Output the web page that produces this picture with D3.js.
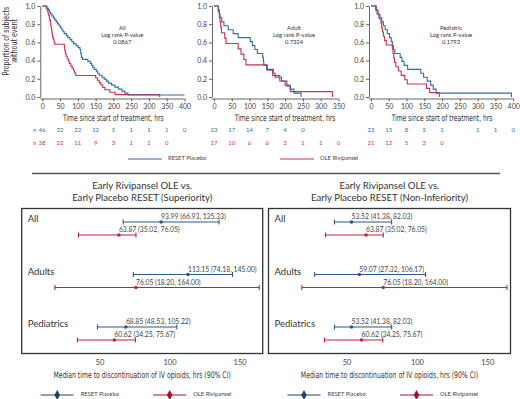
<!DOCTYPE html>
<html>
<head>
<meta charset="utf-8">
<script src="https://cdn.jsdelivr.net/npm/d3@7"></script>
<style>
body { margin: 0; background: #fff; }
svg { display: block; }
.narrow { font-family: 'DejaVu Sans Condensed', 'Liberation Sans', sans-serif; }
.soft { font-family: Lato, 'Open Sans', sans-serif; }
</style>
</head>
<body>
<div id="chart"></div>
<script>
// ---- Kaplan-Meier panels ----
const panelNames = ['All', 'Adult', 'Pediatric']
const pValues = ['0.0867', '0.7324', '0.1793']
const panelMax = [400, 350, 400]
const timeTicks = [0, 50, 100, 150, 200, 250, 300, 350, 400]
const survTicks = [0, 0.2, 0.4, 0.6, 0.8, 1.0]

const atRiskPlacebo = [
    [46, 32, 22, 12, 5, 1, 1, 1, 0],
    [23, 17, 14, 7, 4, 0],
    [23, 15, 8, 5, 1, null, 1, 1, 0]
]
const atRiskOle = [
    [38, 22, 11, 9, 3, 1, 1, 0],
    [17, 10, 6, 6, 3, 1, 1, 0],
    [21, 12, 5, 3, 0]
]

// [time, survival after the step]
const placeboAll = [[13,0.978],[17,0.957],[20,0.935],[23,0.913],[27,0.891],[31,0.87],[35,0.848],[39,0.826],[43,0.804],[47,0.783],[51,0.761],[55,0.739],[58,0.717],[62,0.696],[68,0.674],[72,0.652],[78,0.63],[83,0.609],[88,0.587],[95,0.565],[101,0.543],[106,0.522],[108,0.478],[110,0.435],[113,0.413],[128,0.391],[135,0.37],[139,0.348],[142,0.326],[146,0.304],[152,0.283],[156,0.261],[160,0.239],[168,0.217],[174,0.196],[180,0.174],[186,0.152],[195,0.13],[204,0.109],[214,0.087],[224,0.065],[232,0.043],[241,0.022],[400,0.022]]
const oleAll = [[11,0.974],[14,0.947],[16,0.921],[18,0.895],[20,0.868],[21,0.842],[23,0.816],[24,0.789],[25,0.763],[26,0.737],[27,0.711],[28,0.684],[29,0.658],[31,0.632],[33,0.605],[35,0.579],[62,0.553],[63,0.526],[64,0.5],[65,0.474],[67,0.447],[70,0.421],[73,0.395],[76,0.368],[80,0.342],[84,0.316],[88,0.289],[91,0.263],[94,0.237],[150,0.211],[155,0.184],[160,0.158],[165,0.132],[170,0.105],[176,0.079],[190,0.053],[205,0.026],[330,0]]
const placeboAdult = [[12,0.957],[15,0.913],[17,0.87],[22,0.826],[28,0.783],[40,0.739],[54,0.696],[68,0.652],[102,0.609],[108,0.565],[115,0.522],[122,0.478],[137,0.435],[139,0.391],[140,0.348],[148,0.304],[167,0.261],[172,0.217],[190,0.174],[200,0.13],[214,0.087],[225,0.043],[245,0]]
const oleAdult = [[12,0.941],[15,0.882],[17,0.824],[19,0.765],[21,0.706],[30,0.647],[34,0.588],[68,0.529],[76,0.471],[84,0.412],[90,0.353],[150,0.294],[165,0.235],[185,0.176],[205,0.118],[215,0.059],[333,0]]
const placeboPed = [[13,0.957],[17,0.913],[22,0.87],[30,0.826],[35,0.783],[40,0.739],[46,0.696],[52,0.652],[57,0.609],[60,0.565],[63,0.522],[67,0.478],[82,0.435],[87,0.391],[93,0.348],[103,0.304],[140,0.261],[148,0.217],[158,0.174],[168,0.13],[175,0.087],[183,0.043],[395,0]]
const olePed = [[15,0.952],[20,0.905],[25,0.857],[28,0.81],[30,0.762],[32,0.714],[35,0.667],[38,0.619],[43,0.571],[60,0.524],[62,0.476],[64,0.429],[66,0.381],[70,0.333],[77,0.286],[85,0.238],[95,0.19],[102,0.143],[156,0.095],[165,0.048],[192,0]]

const placeboSteps = [placeboAll, placeboAdult, placeboPed]
const oleSteps = [oleAll, oleAdult, olePed]

// ---- forest plots ----
const groups = ['All', 'Adults', 'Pediatrics']
const forestTicks = [50, 100, 150]
// [median, low, high]
const supPlacebo = [[93.99, 66.93, 135.33], [113.15, 74.18, 145.00], [68.85, 48.53, 105.22]]
const supOle = [[63.87, 35.02, 76.05], [76.05, 18.20, 164.00], [60.62, 34.25, 75.67]]
const niPlacebo = [[53.52, 41.38, 82.03], [59.07, 27.32, 106.17], [53.52, 41.38, 82.03]]
const niOle = [[63.87, 35.02, 76.05], [76.05, 18.20, 164.00], [60.62, 34.25, 75.67]]

const blue = '#3b6c9c'
const red = '#cf2f50'
const fBlue = '#2d5883'
const fRed = '#c2223f'

let width = 520
let height = 399

let svg = d3.select('#chart')
    .append('svg')
    .attr('width', width)
    .attr('height', height)

// layout
const kmLeft = [42.3, 214, 371]
const hrPx = 0.3555
const kmTop = 6
const kmBottom = 97
const squeeze = 0.74   // narrow axis-title look

let line = d3.line().curve(d3.curveStepAfter)

panelNames.forEach((name, i) => {
    let g = svg.append('g')
    let x = d3.scaleLinear()
        .domain([0, panelMax[i]])
        .range([kmLeft[i], kmLeft[i] + panelMax[i] * hrPx])
    let y = d3.scaleLinear().domain([0, 1]).range([kmBottom, kmTop])

    let xAxis = g.append('g')
        .attr('transform', `translate(0,${kmBottom + 1.5})`)
        .call(d3.axisBottom(x).tickValues(timeTicks.filter(t => t <= panelMax[i])).tickSize(3).tickSizeOuter(0).tickPadding(3))
    xAxis.select('.domain').attr('d', `M${kmLeft[i] - 2},0.5H${x(panelMax[i])}`)

    g.append('g')
        .attr('transform', `translate(${kmLeft[i] - 2},0)`)
        .call(d3.axisLeft(y).tickValues(survTicks).tickFormat(d3.format('.1f')).tickSize(3).tickSizeOuter(0).tickPadding(2))

    g.selectAll('.tick text').attr('class', 'soft').attr('font-size', 7).attr('fill', '#444')
    g.selectAll('.domain, .tick line').attr('stroke', '#555').attr('stroke-width', 0.9)

    g.append('path')
        .datum([[0, 1]].concat(oleSteps[i]))
        .attr('fill', 'none')
        .attr('stroke', red)
        .attr('stroke-width', 1.1)
        .attr('d', line.x(d => x(d[0])).y(d => y(d[1])))
    g.append('path')
        .datum([[0, 1]].concat(placeboSteps[i]))
        .attr('fill', 'none')
        .attr('stroke', blue)
        .attr('stroke-width', 1.1)
        .attr('d', line.x(d => x(d[0])).y(d => y(d[1])))

    let cx = x(0) + 80
    let note = g.append('text')
        .attr('class', 'soft')
        .attr('font-size', 5.8)
        .attr('fill', '#333')
        .attr('text-anchor', 'middle')
    ;[name, 'Log rank P-value', pValues[i]].forEach((t, k) => {
        note.append('tspan').attr('x', cx).attr('y', 30 + k * 7).text(t)
    })

    g.append('text')
        .attr('class', 'narrow')
        .attr('transform', `translate(${x(0) + 71},121) scale(${squeeze},1)`)
        .attr('text-anchor', 'middle')
        .attr('font-size', 9)
        .attr('fill', '#333')
        .text('Time since start of treatment, hrs')

    let rows = [[atRiskPlacebo[i], blue, 130.5], [atRiskOle[i], red, 143]]
    rows.forEach(([vals, col, yy]) => {
        g.append('g').selectAll('text')
            .data(vals.map((v, k) => [timeTicks[k], v]).filter(d => d[1] !== null))
            .enter()
            .append('text')
            .attr('class', 'soft')
            .attr('x', d => x(d[0]))
            .attr('y', yy)
            .attr('text-anchor', 'middle')
            .attr('dominant-baseline', 'middle')
            .attr('font-size', 6)
            .attr('fill', col)
            .text(d => d[1])
        if (i === 0) {
            g.append('text')
                .attr('class', 'soft')
                .attr('x', x(0) - 6)
                .attr('y', yy)
                .attr('text-anchor', 'end')
                .attr('dominant-baseline', 'middle')
                .attr('font-size', 6)
                .attr('fill', col)
                .text('n')
        }
    })
})

// y title of first panel
let yTitle = svg.append('text')
    .attr('class', 'narrow')
    .attr('transform', `translate(8.5,41) rotate(-90) scale(${squeeze + 0.04},1)`)
    .attr('text-anchor', 'middle')
    .attr('font-size', 9)
    .attr('fill', '#333')
yTitle.append('tspan').attr('x', 0).attr('y', 0).text('Proportion of subjects')
yTitle.append('tspan').attr('x', 0).attr('y', 9).text('without event')

// KM legend
const kmLegend = [['RESET Placebo', blue, 128], ['OLE Rivipansel', red, 280]]
kmLegend.forEach(([lab, col, lx]) => {
    svg.append('line').attr('x1', lx).attr('x2', lx + 34).attr('y1', 159).attr('y2', 159)
        .attr('stroke', col).attr('stroke-width', 1.2)
    svg.append('text').attr('class', 'soft').attr('x', lx + 40).attr('y', 159)
        .attr('dominant-baseline', 'middle').attr('font-size', 5.8).attr('fill', '#444').text(lab)
})

// separator
svg.append('line').attr('x1', 32).attr('x2', 500).attr('y1', 173.5).attr('y2', 173.5)
    .attr('stroke', '#555').attr('stroke-width', 1.4)

// forest plots
const forests = [
    {left: 21.7, right: 262.7, title: 'Early Placebo RESET (Superiority)', p: supPlacebo, o: supOle},
    {left: 268.5, right: 510.5, title: 'Early Placebo RESET (Non-Inferiority)', p: niPlacebo, o: niOle}
]
const boxTop = 208.5
const boxBottom = 353.5

forests.forEach(f => {
    let g = svg.append('g')
    let x = d3.scaleLinear().domain([-5.5, 166.5]).range([f.left, f.right])
    let yg = d3.scalePoint().domain(groups).range([229, 334])
    let mid = (f.left + f.right) / 2

    g.append('text').attr('class', 'soft').attr('x', mid).attr('y', 187)
        .attr('text-anchor', 'middle').attr('dominant-baseline', 'middle')
        .attr('font-size', 9.6).attr('fill', '#333').text('Early Rivipansel OLE vs.')
    g.append('text').attr('class', 'soft').attr('x', mid).attr('y', 198.5)
        .attr('text-anchor', 'middle').attr('dominant-baseline', 'middle')
        .attr('font-size', 9.6).attr('fill', '#333').text(f.title)

    g.append('rect')
        .attr('x', f.left).attr('y', boxTop)
        .attr('width', f.right - f.left).attr('height', boxBottom - boxTop)
        .attr('fill', 'none').attr('stroke', '#333').attr('stroke-width', 1.3)

    let ax = g.append('g')
        .attr('transform', `translate(0,${boxBottom})`)
        .call(d3.axisBottom(x).tickValues(forestTicks).tickSize(0).tickPadding(6))
    ax.select('.domain').remove()
    ax.selectAll('text').attr('class', 'soft').attr('font-size', 7.5).attr('fill', '#444')

    g.append('text').attr('class', 'narrow')
        .attr('transform', `translate(${mid},376) scale(${squeeze + 0.02},1)`)
        .attr('text-anchor', 'middle').attr('dominant-baseline', 'middle')
        .attr('font-size', 9)
        .attr('fill', '#333')
        .text('Median time to discontinuation of IV opioids, hrs (90% CI)')

    g.selectAll('.grp')
        .data(groups)
        .enter()
        .append('text')
        .attr('class', 'soft')
        .attr('x', f.left + 6)
        .attr('y', d => yg(d) - 9)
        .attr('dominant-baseline', 'middle')
        .attr('font-size', 9.5)
        .attr('fill', '#333')
        .text(d => d)

    let series = [[f.p, fBlue, -7], [f.o, fRed, 6]]
    series.forEach(([vals, col, off]) => {
        let rows = g.append('g').selectAll('g')
            .data(vals.map((v, k) => ({g: groups[k], m: v[0], lo: v[1], hi: v[2]})))
            .enter()
            .append('g')
            .attr('transform', d => `translate(0,${yg(d.g) + off})`)
        rows.append('line')
            .attr('x1', d => x(d.lo)).attr('x2', d => x(d.hi))
            .attr('stroke', col).attr('stroke-width', 1.1)
        rows.append('line')
            .attr('x1', d => x(d.lo)).attr('x2', d => x(d.lo)).attr('y1', -2.5).attr('y2', 2.5)
            .attr('stroke', col).attr('stroke-width', 1.1)
        rows.append('line')
            .attr('x1', d => x(d.hi)).attr('x2', d => x(d.hi)).attr('y1', -2.5).attr('y2', 2.5)
            .attr('stroke', col).attr('stroke-width', 1.1)
        rows.append('circle')
            .attr('cx', d => x(d.m)).attr('r', 1.8).attr('fill', col)
        rows.append('text')
            .attr('class', 'soft')
            .attr('x', d => x(d.m))
            .attr('y', -3)
            .attr('font-size', 6.8)
            .attr('fill', '#444')
            .text(d => `${d.m.toFixed(2)} (${d.lo.toFixed(2)}, ${d.hi.toFixed(2)})`)
    })

    // legend
    let legend = [['RESET Placebo', '#1f4470', f.left + 19], ['OLE Rivipansel', '#a80f2c', f.left + 131.5]]
    legend.forEach(([lab, col, lx]) => {
        g.append('line').attr('x1', lx).attr('x2', lx + 33).attr('y1', 395).attr('y2', 395)
            .attr('stroke', col).attr('stroke-width', 1.1)
        g.append('path')
            .attr('transform', `translate(${lx + 16.5},395)`)
            .attr('d', d3.symbol(d3.symbolDiamond, 28)())
            .attr('fill', col)
        g.append('text').attr('class', 'soft').attr('x', lx + 40).attr('y', 395)
            .attr('dominant-baseline', 'middle').attr('font-size', 5.8).attr('fill', '#444').text(lab)
    })
})
</script>
</body>
</html>
